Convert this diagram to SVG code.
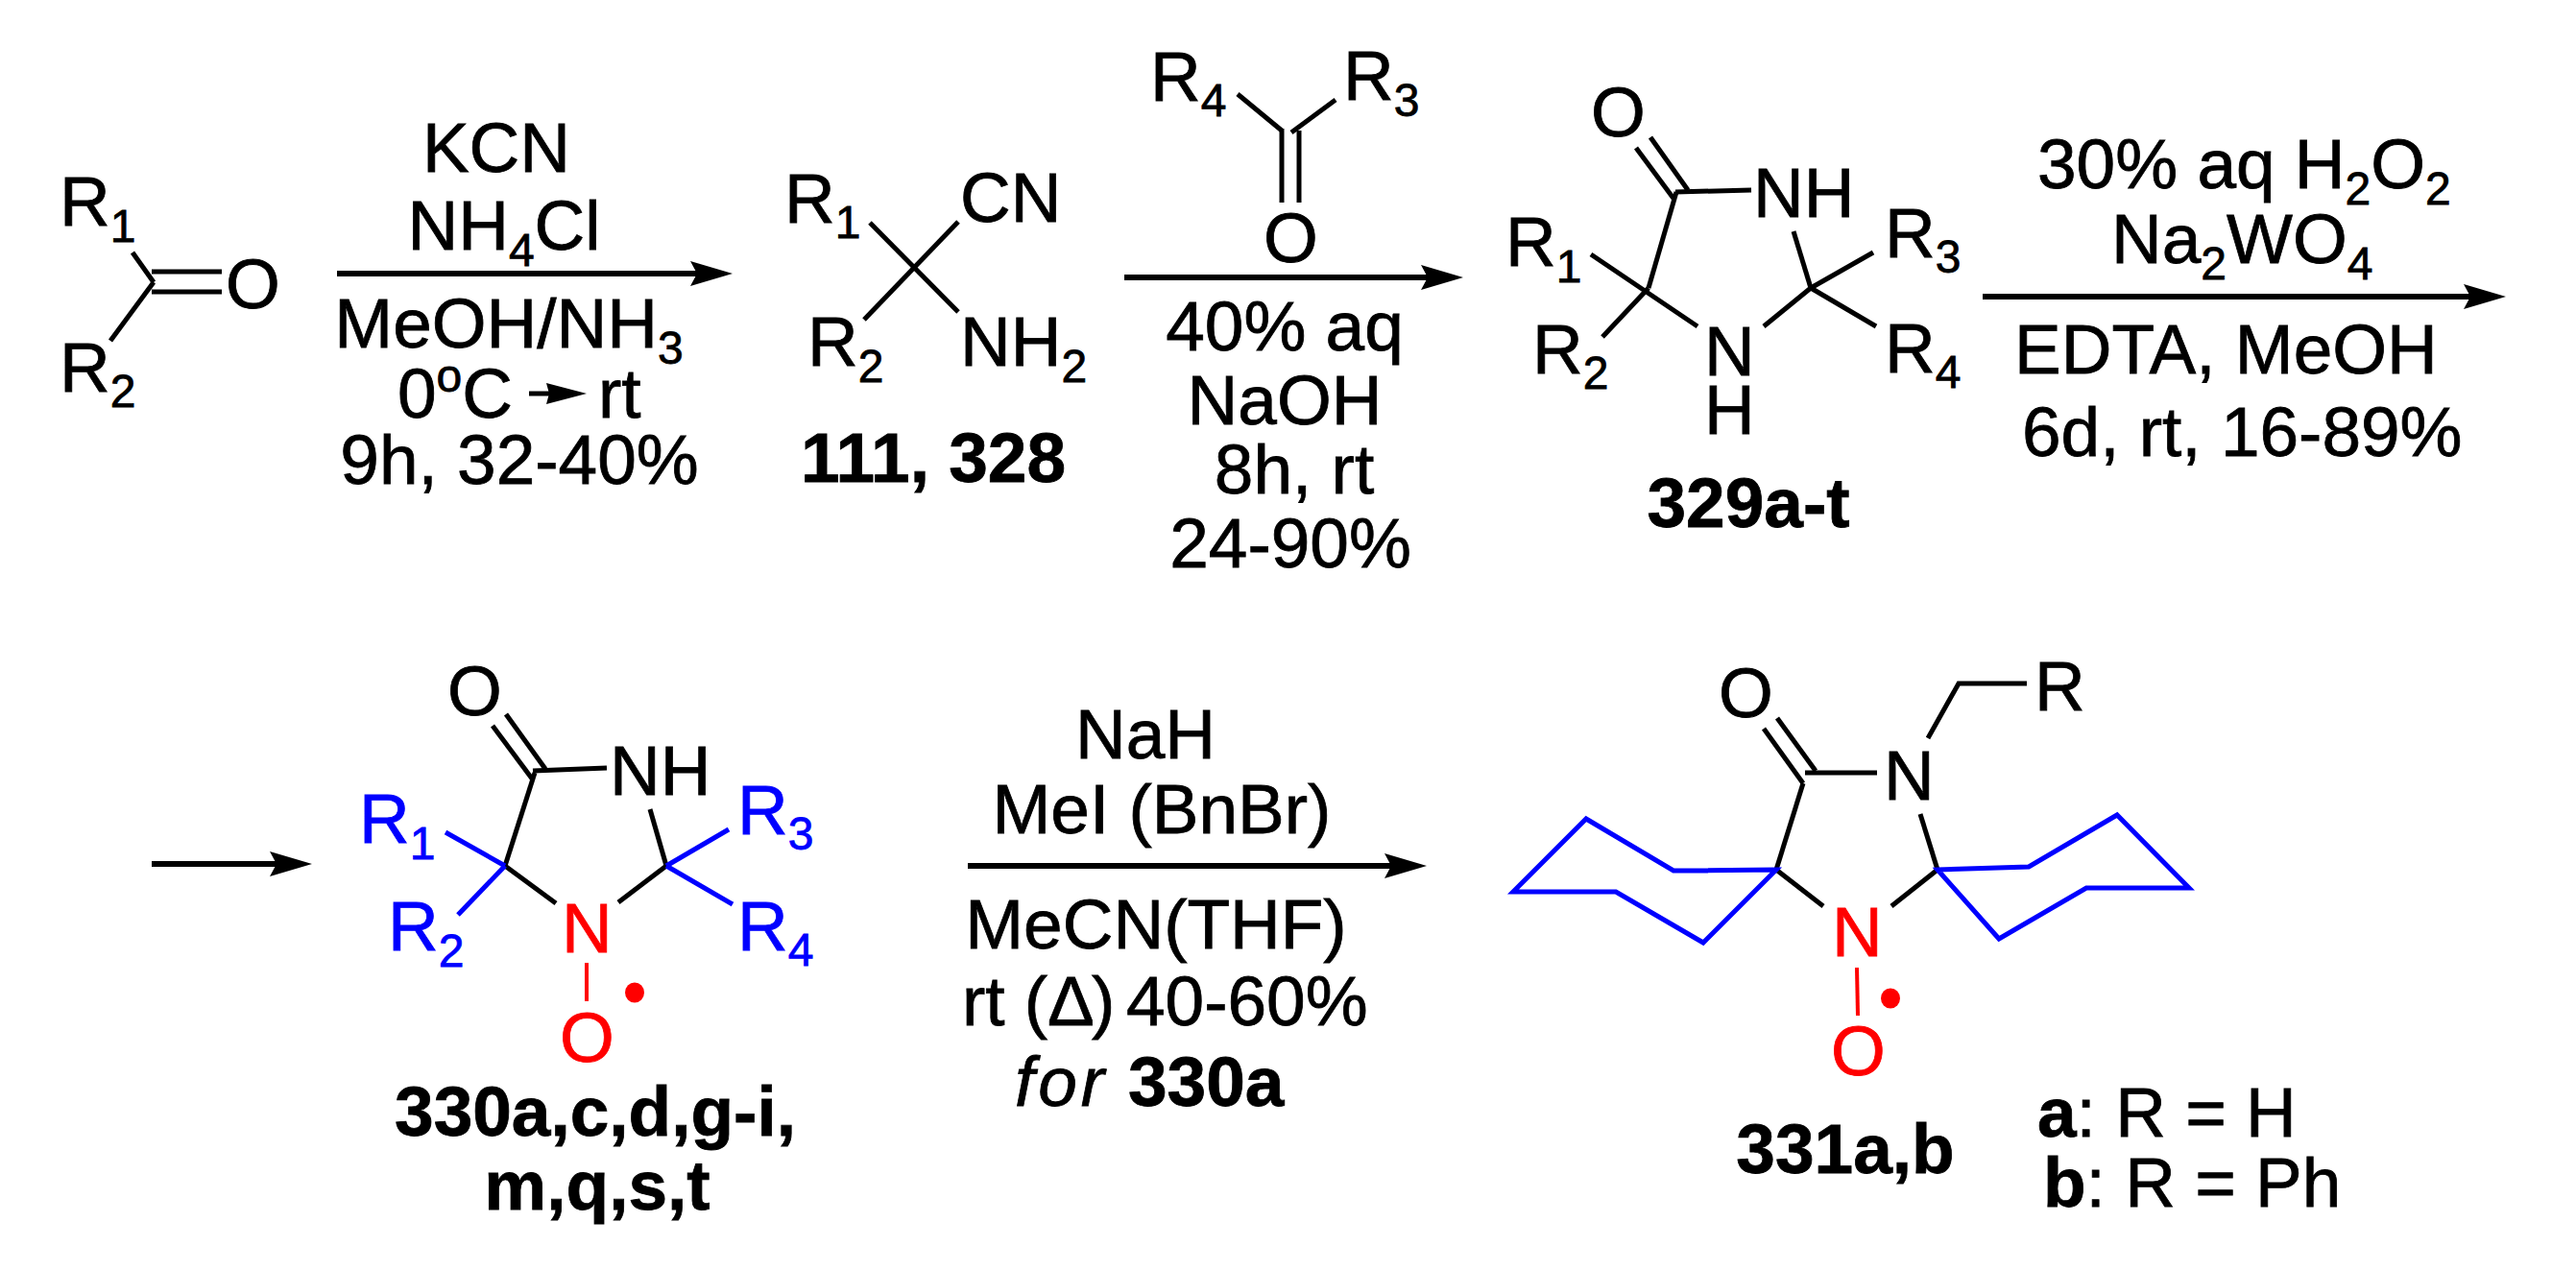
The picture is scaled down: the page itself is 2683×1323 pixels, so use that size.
<svg xmlns="http://www.w3.org/2000/svg" width="2683" height="1323" viewBox="0 0 2683 1323">
<style>
text{font-family:"Liberation Sans",Arial,sans-serif;font-size:73px;fill:#000;stroke:#000;stroke-width:.8}
.b{font-weight:bold}
.i{font-style:italic}
.s{font-size:48px}
.blue text{fill:#0000ff;stroke:#0000ff}
text.red{fill:#ff0000;stroke:#ff0000}
ellipse.red{fill:#ff0000}
line,polyline{stroke:#000;stroke-width:5;fill:none}
.bl{stroke:#0000ff;stroke-width:5;fill:none}
.rl{stroke:#ff0000;stroke-width:4;fill:none}
.arrow{stroke:#000;stroke-width:6;fill:none}
</style>
<defs>
<marker id="head" markerUnits="userSpaceOnUse" markerWidth="44" markerHeight="26" viewBox="0 0 44 26" refX="7" refY="13" orient="auto"><path d="M0,0L44,13L0,26L7,13Z" fill="#000"/></marker>
<marker id="mini" markerUnits="userSpaceOnUse" markerWidth="42" markerHeight="22" viewBox="0 0 42 22" refX="3" refY="11" orient="auto"><path d="M0,0L42,11L0,22L3,11Z" fill="#000"/></marker>
</defs>

<g id="connectors">
<line class="arrow" x1="351" y1="285" x2="726" y2="285" marker-end="url(#head)"/>
<line class="arrow" x1="1171" y1="289" x2="1487" y2="289" marker-end="url(#head)"/>
<line class="arrow" x1="2065" y1="309" x2="2573" y2="309" marker-end="url(#head)"/>
<line class="arrow" x1="158" y1="900" x2="288" y2="900" marker-end="url(#head)"/>
<line class="arrow" x1="1008" y1="902" x2="1449" y2="902" marker-end="url(#head)"/>
</g>

<g id="ketone-start">
<line x1="138" y1="263" x2="160" y2="294"/>
<line x1="160" y1="294" x2="115" y2="355"/>
<line x1="158" y1="283" x2="231" y2="283"/>
<line x1="158" y1="304" x2="231" y2="304"/>
<text x="62" y="235">R<tspan class="s" dy="17">1</tspan></text>
<text x="62" y="408">R<tspan class="s" dy="16">2</tspan></text>
<text x="235" y="321">O</text>
</g>

<g id="conditions-1" text-anchor="middle">
<text x="517" y="179">KCN</text>
<text x="525" y="260">NH<tspan class="s" dy="17">4</tspan><tspan dy="-17">Cl</tspan></text>
<text x="530" y="362">MeOH/NH<tspan class="s" dy="17">3</tspan></text>
<text x="414" y="435" text-anchor="start">0<tspan class="s" dy="-27">o</tspan><tspan dy="27">C</tspan></text>
<line x1="551" y1="410" x2="572" y2="410" marker-end="url(#mini)"/>
<text x="623" y="435" text-anchor="start">rt</text>
<text x="541" y="504">9h, 32-40%</text>
</g>

<g id="compound-111-328">
<line x1="906" y1="232" x2="998" y2="325"/>
<line x1="998" y1="231" x2="900" y2="333"/>
<text x="817" y="232">R<tspan class="s" dy="16">1</tspan></text>
<text x="1000" y="231">CN</text>
<text x="841" y="381">R<tspan class="s" dy="17">2</tspan></text>
<text x="1000" y="381">NH<tspan class="s" dy="17">2</tspan></text>
<text class="b" x="972" y="502" text-anchor="middle">111, 328</text>
</g>

<g id="ketone-r3-r4">
<line x1="1289" y1="98" x2="1335" y2="136"/>
<line x1="1391" y1="104" x2="1345" y2="138"/>
<line x1="1335" y1="134" x2="1335" y2="211"/>
<line x1="1353" y1="136" x2="1353" y2="211"/>
<text x="1198" y="105">R<tspan class="s" dy="16">4</tspan></text>
<text x="1399" y="104">R<tspan class="s" dy="17">3</tspan></text>
<text x="1316" y="273">O</text>
</g>

<g id="conditions-2" text-anchor="middle">
<text x="1338" y="365">40% aq</text>
<text x="1338" y="442">NaOH</text>
<text x="1348" y="514">8h, rt</text>
<text x="1344" y="591">24-90%</text>
</g>

<g id="compound-329">
<line x1="1704" y1="154" x2="1744" y2="208"/>
<line x1="1719" y1="143" x2="1758" y2="198"/>
<line x1="1745" y1="200" x2="1824" y2="198"/>
<line x1="1746" y1="200" x2="1717" y2="300"/>
<line x1="1657" y1="265" x2="1768" y2="340"/>
<line x1="1717" y1="300" x2="1669" y2="351"/>
<line x1="1837" y1="340" x2="1886" y2="300"/>
<line x1="1868" y1="241" x2="1886" y2="300"/>
<line x1="1886" y1="300" x2="1951" y2="263"/>
<line x1="1886" y1="300" x2="1954" y2="340"/>
<text x="1657" y="142">O</text>
<text x="1826" y="226">NH</text>
<text x="1568" y="277">R<tspan class="s" dy="17">1</tspan></text>
<text x="1596" y="389">R<tspan class="s" dy="16">2</tspan></text>
<text x="1775" y="391">N</text>
<text x="1775" y="452">H</text>
<text x="1963" y="268">R<tspan class="s" dy="16">3</tspan></text>
<text x="1963" y="388">R<tspan class="s" dy="16">4</tspan></text>
<text class="b" x="1821" y="549" text-anchor="middle">329a-t</text>
</g>

<g id="conditions-3">
<text x="2122" y="196">30% aq H<tspan class="s" dy="17">2</tspan><tspan dy="-17">O</tspan><tspan class="s" dy="17">2</tspan></text>
<text x="2199" y="274">Na<tspan class="s" dy="17">2</tspan><tspan dy="-17">WO</tspan><tspan class="s" dy="17">4</tspan></text>
<text x="2098" y="389">EDTA, MeOH</text>
<text x="2106" y="475">6d, rt, 16-89%</text>
</g>

<g id="compound-330">
<line x1="513" y1="756" x2="554" y2="811"/>
<line x1="527" y1="744" x2="568" y2="801"/>
<line x1="555" y1="803" x2="632" y2="800"/>
<line x1="557" y1="805" x2="526" y2="902"/>
<line x1="526" y1="902" x2="579" y2="941"/>
<line x1="644" y1="940" x2="694" y2="902"/>
<line x1="677" y1="843" x2="694" y2="902"/>
<line class="bl" x1="464" y1="867" x2="526" y2="902"/>
<line class="bl" x1="526" y1="902" x2="477" y2="953"/>
<line class="bl" x1="694" y1="902" x2="759" y2="864"/>
<line class="bl" x1="694" y1="902" x2="763" y2="942"/>
<line class="rl" x1="611" y1="1003" x2="611" y2="1043"/>
<ellipse class="red" cx="661" cy="1034" rx="10" ry="10.5"/>
<text x="466" y="745">O</text>
<text x="635" y="828">NH</text>
<g class="blue">
<text x="374" y="878">R<tspan class="s" dy="17">1</tspan></text>
<text x="404" y="990">R<tspan class="s" dy="17">2</tspan></text>
<text x="768" y="869">R<tspan class="s" dy="16">3</tspan></text>
<text x="768" y="990">R<tspan class="s" dy="16">4</tspan></text>
</g>
<text class="red" x="585" y="992">N</text>
<text class="red" x="583" y="1106">O</text>
<text class="b" x="620" y="1183" text-anchor="middle">330a,c,d,g-i,</text>
<text class="b" x="622" y="1260" text-anchor="middle">m,q,s,t</text>
</g>

<g id="conditions-4" text-anchor="middle">
<text x="1193" y="790">NaH</text>
<text x="1210" y="868">MeI (BnBr)</text>
<text x="1204" y="988">MeCN(THF)</text>
<text x="1002" y="1068" text-anchor="start">rt (</text>
<text x="1091" y="1068" text-anchor="start">Δ</text>
<text x="1137" y="1068" text-anchor="start">)</text>
<text x="1173" y="1068" text-anchor="start">40-60%</text>
<text class="i" x="1057" y="1152" text-anchor="start" textLength="93" lengthAdjust="spacing">for</text>
<text class="b" x="1175" y="1152" text-anchor="start">330a</text>
</g>

<g id="compound-331">
<line x1="1837" y1="759" x2="1878" y2="816"/>
<line x1="1851" y1="748" x2="1891" y2="803"/>
<line x1="1880" y1="805" x2="1955" y2="805"/>
<polyline points="2008,769 2040,712 2111,712"/>
<line x1="1878" y1="816" x2="1850" y2="906"/>
<line x1="1850" y1="906" x2="1899" y2="944"/>
<line x1="1970" y1="944" x2="2018" y2="906"/>
<line x1="2000" y1="848" x2="2018" y2="906"/>
<polygon class="bl" points="1850,906 1743,907 1652,853 1576,929 1683,929 1774,982"/>
<polygon class="bl" points="2018,906 2113,903 2205,849 2280,925 2173,925 2082,978"/>
<line class="rl" x1="1934" y1="1008" x2="1935" y2="1058"/>
<ellipse class="red" cx="1969" cy="1040" rx="10" ry="10.5"/>
<text x="1790" y="747">O</text>
<text x="1962" y="833">N</text>
<text x="2119" y="740">R</text>
<text class="red" x="1908" y="996">N</text>
<text class="red" x="1907" y="1120">O</text>
<text class="b" x="1922" y="1222" text-anchor="middle">331a,b</text>
<text x="2122" y="1184"><tspan class="b">a</tspan>: R = H</text>
<text x="2128" y="1257"><tspan class="b">b</tspan>: R = Ph</text>
</g>
</svg>
